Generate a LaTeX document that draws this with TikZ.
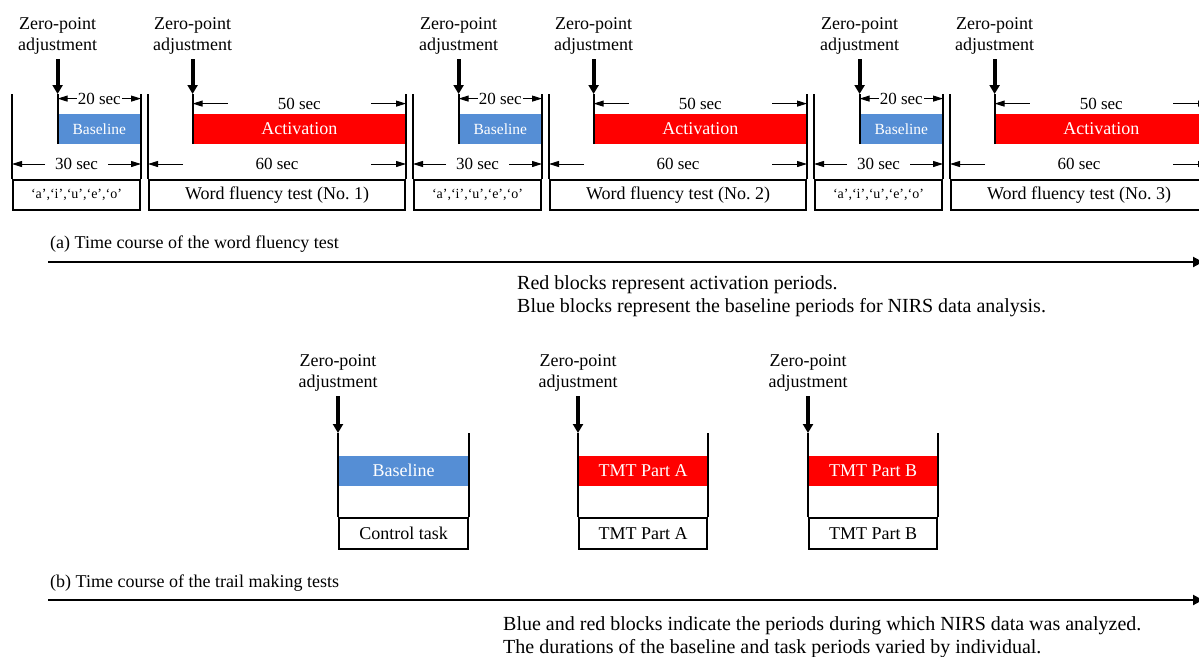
\documentclass[tikz,border=0pt]{standalone}
\usepackage{fontspec}
\setmainfont{Liberation Serif}
\usetikzlibrary{arrows.meta,positioning}
\definecolor{baseblue}{RGB}{85,142,213}
\definecolor{actred}{RGB}{255,0,0}
\tikzset{
  wall/.style={line width=2pt},
  taskbox/.style={draw, line width=2pt, minimum height=30pt, inner sep=0pt, font=\fontsize{18}{21}\selectfont},
  baseblock/.style={fill=baseblue, text=white, minimum height=30pt, inner sep=0pt, font=\fontsize{18}{21}\selectfont},
  actblock/.style={fill=actred, text=white, minimum height=30pt, inner sep=0pt, font=\fontsize{18}{21}\selectfont},
  zlabel/.style={align=center, inner sep=0pt, font=\fontsize{18}{21}\selectfont},
  zarrow/.style={line width=4pt, -{Triangle[length=9pt,width=10pt]}},
  dimarr/.style={line width=1pt, -{Triangle[length=10pt,width=6pt]}},
  dimtext/.style={inner sep=1pt, font=\fontsize{17}{20}\selectfont},
  timeaxis/.style={line width=2pt, -{Triangle[length=10pt,width=10pt]}},
  caption/.style={inner sep=0pt, anchor=base west, font=\fontsize{18}{21}\selectfont},
  note/.style={inner sep=0pt, anchor=base west, font=\fontsize{20}{23}\selectfont}
}

\begin{document}
\begin{tikzpicture}[x=1pt,y=-1pt]
  \useasboundingbox (0,0) rectangle (1199,656);
  \clip (0,0) rectangle (1199,656);

  % (a) word fluency test, three rounds
  \foreach \i/\o in {1/0,2/401,3/802}{
    \node[taskbox, minimum width=127pt, font=\fontsize{14}{16}\selectfont] (v\i) at (76.5+\o,195) {`a',`i',`u',`e',`o'};
    \node[taskbox, minimum width=256pt] (w\i) at (277+\o,195) {Word fluency test (No.~\i)};
    \node[baseblock, minimum width=83pt, anchor=south east, font=\fontsize{15.5}{18}\selectfont] (b\i) at ([yshift=35pt]v\i.north east) {Baseline};
    \node[actblock, minimum width=213pt, anchor=south east] (a\i) at ([yshift=35pt]w\i.north east) {Activation};

    \draw[wall] (v\i.north west) -- ++(0,-85);
    \draw[wall] (v\i.north east) -- ++(0,-85);
    \draw[wall] (w\i.north west) -- ++(0,-85);
    \draw[wall] (w\i.north east) -- ++(0,-85);
    \draw[wall] (b\i.south west) -- ++(0,-50) coordinate (bt\i);
    \draw[wall] (a\i.south west) -- ++(0,-50) coordinate (at\i);

    % zero-point arrows
    \path (bt\i) ++(0,-35) coordinate (bs\i);
    \path (at\i) ++(0,-35) coordinate (as\i);
    \node[zlabel, above=4pt of bs\i] (bz\i) {Zero-point\\adjustment};
    \node[zlabel, above=4pt of as\i] (az\i) {Zero-point\\adjustment};
    \draw[zarrow] (bs\i) -- (bt\i);
    \draw[zarrow] (as\i) -- (at\i);

    % durations
    \node[dimtext] (d20\i) at ([yshift=15pt]b\i.north) {20 sec};
    \draw[dimarr] (d20\i.west) -- (d20\i.west -| b\i.west);
    \draw[dimarr] (d20\i.east) -- (d20\i.east -| b\i.east);

    \node[dimtext] (d50\i) at ([yshift=10pt]a\i.north) {50 sec};
    \coordinate (l50\i) at (d50\i.center -| a\i.west);
    \coordinate (r50\i) at (d50\i.center -| a\i.east);
    \draw[dimarr] ([xshift=35pt]l50\i) -- (l50\i);
    \draw[dimarr] ([xshift=-35pt]r50\i) -- (r50\i);

    \node[dimtext] (d30\i) at ([yshift=15pt]v\i.north) {30 sec};
    \coordinate (l30\i) at (d30\i.center -| v\i.west);
    \coordinate (r30\i) at (d30\i.center -| v\i.east);
    \draw[dimarr] ([xshift=33pt]l30\i) -- (l30\i);
    \draw[dimarr] ([xshift=-33pt]r30\i) -- (r30\i);

    \node[dimtext] (d60\i) at ([yshift=15pt]w\i.north) {60 sec};
    \coordinate (l60\i) at (d60\i.center -| w\i.west);
    \coordinate (r60\i) at (d60\i.center -| w\i.east);
    \draw[dimarr] ([xshift=35pt]l60\i) -- (l60\i);
    \draw[dimarr] ([xshift=-35pt]r60\i) -- (r60\i);
  }

  \coordinate (axa0) at (48,262);
  \coordinate (axa1) at (1203,262);
  \draw[timeaxis] (axa0) -- (axa1);
  \node[caption] (capa) at (50,248) {(a) Time course of the word fluency test};
  \node[note] (nota1) at (517,289) {Red blocks represent activation periods.};
  \node[note] (nota2) at (517,312) {Blue blocks represent the baseline periods for NIRS data analysis.};

  % (b) trail making tests
  \foreach \n/\x/\w/\blk/\txt/\task in {c/403.5/129/baseblock/Baseline/Control task,
      pa/643/128/actblock/TMT Part A/TMT Part A,
      pb/873/128/actblock/TMT Part B/TMT Part B}{
    \node[taskbox, minimum width=\w pt, minimum height=31pt] (\n) at (\x,533.5) {\task};
    \node[\blk, minimum width=\w pt, anchor=south] (\n-blk) at ([yshift=31pt]\n.north) {\txt};
    \draw[wall] (\n.north west) -- ++(0,-84) coordinate (\n-top);
    \draw[wall] (\n.north east) -- ++(0,-84);
    \path (\n-top) ++(0,-37) coordinate (\n-s);
    \node[zlabel, above=4pt of \n-s] (\n-z) {Zero-point\\adjustment};
    \draw[zarrow] (\n-s) -- (\n-top);
  }

  \coordinate (axb0) at (48,600);
  \coordinate (axb1) at (1203,600);
  \draw[timeaxis] (axb0) -- (axb1);
  \node[caption] (capb) at (50,587) {(b) Time course of the trail making tests};
  \node[note] (notb1) at (503,630) {Blue and red blocks indicate the periods during which NIRS data was analyzed.};
  \node[note] (notb2) at (503,653) {The durations of the baseline and task periods varied by individual.};
\end{tikzpicture}
\end{document}
